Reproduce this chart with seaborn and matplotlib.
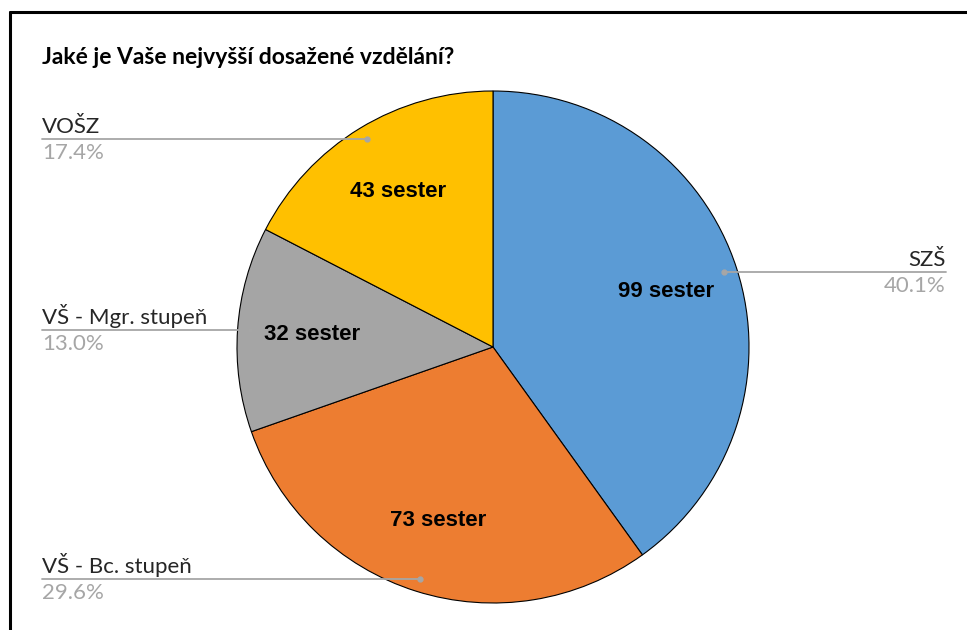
import numpy as np
import matplotlib
matplotlib.use("Agg")
import matplotlib.pyplot as plt
from matplotlib.lines import Line2D
import seaborn as sns

categories = ["SZŠ", "VŠ - Bc. stupeň", "VŠ - Mgr. stupeň", "VOŠZ"]
counts = [99, 73, 32, 43]
percent_labels = ["40.1%", "29.6%", "13.0%", "17.4%"]
colors = ["#5B9BD5", "#ED7D31", "#A5A5A5", "#FFC000"]
title = "Jaké je Vaše nejvyšší dosažené vzdělání?"

W, H = 967, 630


def main():
    sns.set_theme(style="white")
    plt.rcParams["font.family"] = ["Lato", "DejaVu Sans"]

    fig = plt.figure(figsize=(W / 100, H / 100), dpi=100)
    ax = fig.add_axes([0, 0, 1, 1])
    ax.set_xlim(0, W)
    ax.set_ylim(0, H)
    ax.axis("off")

    cx, cy, r = 493, H - 347, 256
    total = sum(counts)
    wedges, _, autotexts = ax.pie(
        counts, colors=colors, startangle=90, counterclock=False,
        center=(cx, cy), radius=r,
        wedgeprops=dict(edgecolor="black", linewidth=0.8),
        autopct=lambda p: f"{round(p * total / 100)} sester",
        pctdistance=0.71,
        textprops=dict(fontsize=16, fontweight="bold", color="black",
                       family=["Liberation Sans", "DejaVu Sans"]),
    )
    ax.set_xlim(0, W)
    ax.set_ylim(0, H)

    # leader lines + labels
    for w, cat, pct in zip(wedges, categories, percent_labels):
        mid = np.deg2rad((w.theta1 + w.theta2) / 2)
        ax_x = cx + 0.95 * r * np.cos(mid)
        ax_y = cy + 0.95 * r * np.sin(mid)
        if np.cos(mid) > 0:
            x_end, ha = W - 21, "right"
        else:
            x_end, ha = 42, "left"
        ax.plot([x_end, ax_x], [ax_y, ax_y], color="#A6A6A6", lw=1.3, zorder=5)
        ax.plot([ax_x], [ax_y], marker="o", ms=3.5, color="#A6A6A6", zorder=6)
        ax.text(x_end, ax_y + 2, cat, ha=ha, va="bottom", fontsize=16, color="#262626")
        ax.text(x_end, ax_y - 4, pct, ha=ha, va="top", fontsize=16, color="#A6A6A6")

    ax.text(42, H - 58, title, ha="left", va="center", fontsize=16.5, fontweight="bold", color="black")

    # frame (top and left only, like the cropped screenshot)
    fig.add_artist(Line2D([10 / W, 1], [1 - 12 / H, 1 - 12 / H], color="black", lw=2.2))
    fig.add_artist(Line2D([10 / W, 10 / W], [0, 1 - 12 / H], color="black", lw=2.2))

    plt.savefig("out.png", dpi=100)


if __name__ == "__main__":
    main()
